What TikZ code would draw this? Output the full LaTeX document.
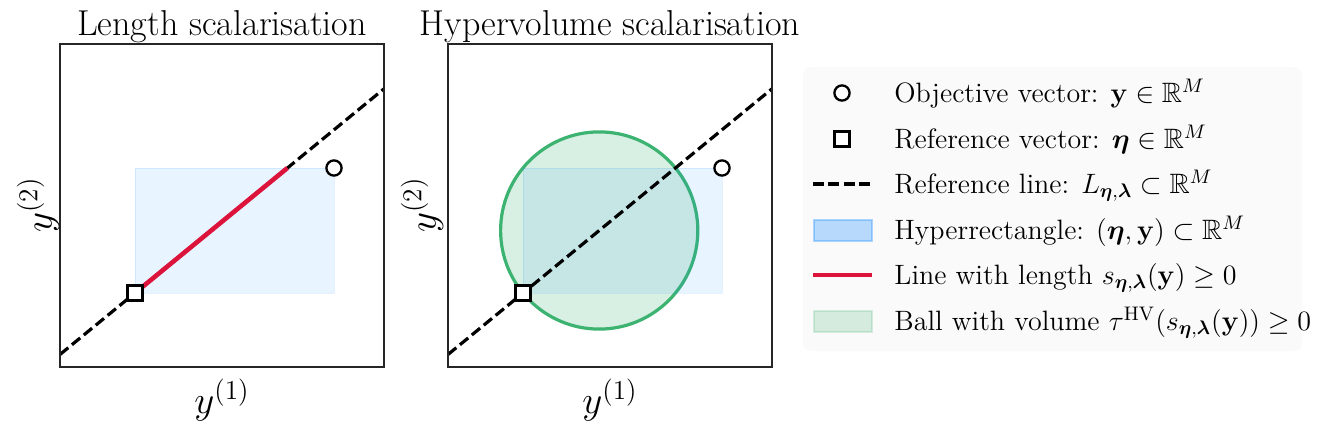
\RequirePackage{fix-cm}
\documentclass[tikz,border=0pt]{standalone}
\usepackage{amssymb}
\usepackage{bm}
\usetikzlibrary{positioning}
\definecolor{boxblue}{HTML}{1E90FF}
\definecolor{ballgreen}{HTML}{3CB371}
\definecolor{lenred}{HTML}{DC143C}
\newcommand{\vy}{\mathbf{y}}
\newcommand{\veta}{\bm{\eta}}
\newcommand{\vlam}{\bm{\lambda}}
\tikzset{
  frame/.style={draw=black!85,line width=0.75pt},
  refline/.style={draw=black,line width=1.6pt,dash pattern=on 5.35pt off 2.35pt},
  lenline/.style={draw=lenred,line width=2.3pt},
  hyperrect/.style={fill=boxblue,fill opacity=0.1,draw=boxblue,draw opacity=0.12,line width=0.5pt},
  ball/.style={fill=ballgreen,fill opacity=0.2,draw=ballgreen,line width=1.6pt},
  objmark/.style={circle,draw=black,fill=white,line width=1.15pt,minimum size=7.6pt,inner sep=0pt},
  refmark/.style={rectangle,draw=black,fill=white,line width=1.15pt,minimum size=7.6pt,inner sep=0pt},
  titletext/.style={font=\fontsize{18}{22}\selectfont},
  axistext/.style={font=\fontsize{19.5}{24}\selectfont},
  legtext/.style={font=\fontsize{14}{17}\selectfont,anchor=base west,inner sep=0pt},
}
\begin{document}
\begin{tikzpicture}[x=0.5pt,y=-0.5pt]
  \useasboundingbox (0,0) rectangle (1329,428);

  % length scalarisation
  \coordinate (A1) at (60,354.5);
  \coordinate (B1) at (384,88.8);
  \coordinate (E1) at (135,293);
  \coordinate (Y1) at (334,168);
  \coordinate (S1) at (287.4,168);
  \fill[hyperrect] (E1) rectangle (Y1);
  \draw[refline] (A1) -- (B1);
  \draw[lenline] (E1) -- (S1);
  \node[refmark] (eta1) at (E1) {};
  \node[objmark] (y1) at (Y1) {};
  \draw[frame] (60,44) rectangle (384,367);
  \node[titletext,anchor=base] (title1) at (222,35) {Length scalarisation};
  \node[axistext] (xlab1) at (222,400) {$y^{(1)}$};
  \node[axistext,rotate=90] (ylab1) at (38,205) {$y^{(2)}$};

  % hypervolume scalarisation
  \coordinate (A2) at (448,354.5);
  \coordinate (B2) at (772,88.8);
  \coordinate (E2) at (523,293);
  \coordinate (Y2) at (722,168);
  \coordinate (C2) at (599.2,230.5);
  \draw[ball] (C2) circle[radius=98.6];
  \fill[hyperrect] (E2) rectangle (Y2);
  \draw[refline] (A2) -- (B2);
  \node[refmark] (eta2) at (E2) {};
  \node[objmark] (y2) at (Y2) {};
  \draw[frame] (448,44) rectangle (772,367);
  \node[titletext,anchor=base] (title2) at (610,35) {Hypervolume scalarisation};
  \node[axistext] (xlab2) at (610,400) {$y^{(1)}$};
  \node[axistext,rotate=90] (ylab2) at (422,205) {$y^{(2)}$};

  % legend
  \fill[black!2,rounded corners=4pt] (803,67) rectangle (1302,351);
  \node[objmark] (h1) at (842,93) {};
  \node[refmark] (h2) at (842,139) {};
  \coordinate (h3a) at (813,184);
  \coordinate (h3b) at (872,184);
  \draw[refline] (h3a) -- (h3b);
  \fill[hyperrect,fill opacity=0.3,draw opacity=0.35,line width=1pt] (813.5,219.5) rectangle (871.5,240.5);
  \coordinate (h5a) at (813,275);
  \coordinate (h5b) at (872,275);
  \draw[lenline] (h5a) -- (h5b);
  \fill[ball,draw opacity=0.2,line width=1pt] (813.5,310.5) rectangle (871.5,331.5);
  \node[legtext] (t1) at (894,102.5) {Objective vector: $\vy\in\mathbb{R}^M$};
  \node[legtext] (t2) at (894,148.5) {Reference vector: $\veta\in\mathbb{R}^M$};
  \node[legtext] (t3) at (894,193.5) {Reference line: $L_{\veta,\vlam}\subset\mathbb{R}^M$};
  \node[legtext] (t4) at (894,239.5) {Hyperrectangle: $(\veta,\vy)\subset\mathbb{R}^M$};
  \node[legtext] (t5) at (894,284.5) {Line with length $s_{\veta,\vlam}(\vy)\geq0$};
  \node[legtext] (t6) at (894,330.5) {Ball with volume $\tau^{\mathrm{HV}}(s_{\veta,\vlam}(\vy))\geq0$};
\end{tikzpicture}
\end{document}
